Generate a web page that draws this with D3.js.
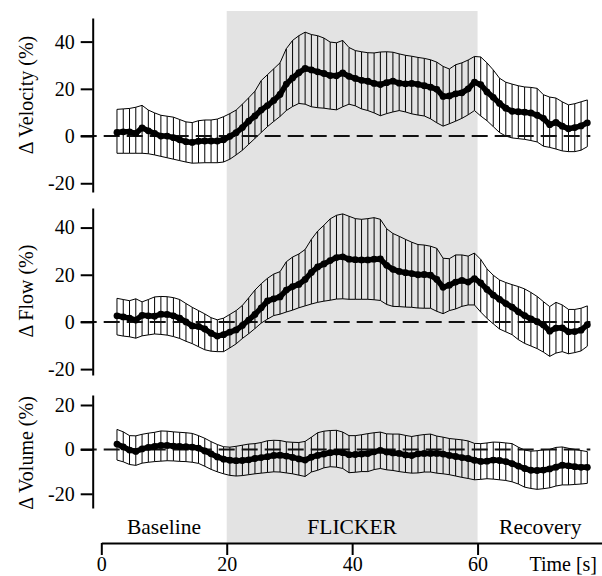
<!DOCTYPE html>
<html>
<head>
<meta charset="utf-8">
<script src="https://cdn.jsdelivr.net/npm/d3@7"></script>
<style>
  body { margin: 0; background: #fff; }
  svg { display: block; font-family: 'Liberation Serif', 'Times New Roman', serif; }
</style>
</head>
<body>
<svg id="chart" width="602" height="576"></svg>
<script>
// sample times (s)
const time = [
  2.5, 3.5, 4.5, 5.5, 6.5, 7.5, 8.5, 9.5, 10.5, 11.5,
  12.5, 13.5, 14.5, 15.5, 16.5, 17.5, 18.5, 19.5, 20.5, 21.5,
  22.5, 23.5, 24.5, 25.5, 26.5, 27.5, 28.5, 29.5, 30.5, 31.5,
  32.5, 33.5, 34.5, 35.5, 36.5, 37.5, 38.5, 39.5, 40.5, 41.5,
  42.5, 43.5, 44.5, 45.5, 46.5, 47.5, 48.5, 49.5, 50.5, 51.5,
  52.5, 53.5, 54.5, 55.5, 56.5, 57.5, 58.5, 59.5, 60.5, 61.5,
  62.5, 63.5, 64.5, 65.5, 66.5, 67.5, 68.5, 69.5, 70.5, 71.5,
  72.5, 73.5, 74.5, 75.5, 76.5, 77.5,
];

const velMean = [
  1.5, 1.8, 1.8, 1.1, 3.5, 2.2, 1.1, 0, 0, -0.7,
  -1.6, -2.4, -2.7, -2.2, -2.1, -2.1, -2.1, -1.6, -0.1, 1.4,
  3.6, 6.3, 8.5, 11, 12.9, 15.1, 17.6, 22, 24.6, 26.8,
  28.6, 28, 27.2, 26.5, 25.6, 25.5, 26.7, 25.3, 24.4, 23.6,
  23.2, 22.3, 21.8, 22.6, 23.3, 22.4, 22.1, 22.3, 21.9, 21.3,
  20.7, 19.8, 16.8, 17, 17.9, 18.3, 20, 22.8, 21.8, 18.7,
  16.4, 13.8, 11.8, 10.5, 10.3, 10.1, 9.8, 8.8, 7.5, 4.8,
  5.8, 4.2, 3.1, 3.6, 4.3, 5.6,
];
const velUpper = [
  11.3, 11.5, 11.7, 12.2, 13, 11, 9.8, 8.8, 8.4, 8,
  7, 6, 5.7, 6.5, 6.8, 6.8, 7.2, 8.2, 9.5, 11,
  13.5, 16.2, 19, 23.5, 26, 28.5, 31, 37, 40.5, 42.5,
  44, 43, 42.5, 41.5, 39.8, 39.5, 40.5, 37.5, 36.2, 35.7,
  35.3, 35.2, 35.6, 35.7, 35.5, 34.8, 34.2, 33.8, 33.3, 32.9,
  32.3, 31.3, 29.5, 28.4, 30.2, 31, 32.2, 33.7, 33.5, 31,
  28, 24.5, 22.8, 22, 21.3, 20.8, 20.6, 20.2, 17.5, 16.5,
  16.1, 14.5, 13.2, 13.7, 14.5, 15.3,
];
const velLower = [
  -7.3, -7.3, -7.3, -7.3, -7.3, -7.5, -8, -8.6, -9.2, -9.8,
  -10.4, -11, -11.5, -11.4, -11.3, -11.3, -11.3, -11, -9.8, -8,
  -6, -3.5, -1, 1.5, 4, 6.2, 8.3, 10.8, 12.5, 13.8,
  13.5, 12.4, 12, 11.8, 11.4, 11.1, 12.4, 13.5, 12.8, 11.5,
  10.8, 9.8, 8.6, 9.5, 10.2, 10.8, 10.2, 9.4, 8.9, 8.5,
  7.3, 5.6, 4.2, 5.2, 6.3, 7.5, 9, 10.8, 8.5, 6.5,
  4, 1.5, 0, -0.8, -1.1, -1.4, -1.9, -2.5, -4.3, -4.8,
  -5.5, -6.3, -6.6, -6.6, -6, -4.5,
];

const flowMean = [
  2.6, 2.1, 1.6, 0.8, 2.8, 2.6, 2.4, 3.3, 3.2, 2.6,
  1.6, 0, -1.7, -1.9, -3, -4.8, -6, -5.4, -4.3, -3.4,
  -1.5, 0.8, 3.2, 6, 8.9, 9.8, 10.6, 13.5, 15, 15.9,
  18, 21, 23.3, 24.6, 26, 27.3, 27.6, 26.6, 26.4, 26.3,
  26.3, 26.6, 26.7, 24, 22.3, 21.4, 20.9, 20.5, 20, 20.1,
  19.8, 18, 14.7, 15.6, 16.9, 17.6, 16.9, 18.4, 16.5, 13.8,
  11.4, 9.6, 7.8, 6.3, 4.3, 2.7, 1.3, 0.1, -1.3, -3.9,
  -2.6, -2.5, -4.2, -4.1, -3.5, -1.2,
];
const flowUpper = [
  10, 9.5, 9, 9.8, 8.5, 9.5, 10.6, 10.8, 10.7, 10.3,
  9.5, 7.8, 6.2, 4.8, 3.4, 1.8, 0.9, 1.6, 3.2, 4.8,
  7, 10.2, 13.5, 16.2, 18.5, 20.3, 21.3, 25.5, 27.5, 28.8,
  30.7, 35, 38.5, 41, 43.7, 45.2, 45.8, 44.8, 43.8, 43.5,
  43.8, 44.2, 43.5, 39.5, 37.5, 36.3, 35, 33.8, 32.8, 32.6,
  32.1, 31.2, 27, 26.8, 28.4, 28.4, 27.9, 29.2, 26.5, 22.5,
  19.8, 17.8, 16.7, 15.8, 15, 14, 12.5, 10.8, 8.6, 6.5,
  8.3, 7.2, 5.3, 5.3, 5.8, 6.8,
];
const flowLower = [
  -5.5, -6, -6.3, -6.9, -5.9, -5.5, -5.1, -5.3, -5.6, -6.2,
  -7, -8.2, -9.2, -10.5, -11.8, -12.4, -12.6, -12.6, -11, -9.3,
  -7, -5, -2.8, -0.5, 1.2, 2.7, 3.3, 4.2, 5, 6,
  6.8, 7.6, 8.3, 8.8, 9.2, 9.7, 9.8, 9.6, 9.6, 9.6,
  9.6, 9.4, 9.1, 7.4, 6.6, 6.5, 6.3, 6.2, 5.9, 5.8,
  5.8, 4.5, 3.5, 4.8, 5.5, 6.6, 7.2, 7.2, 4.2, 1.5,
  -0.8, -3, -4.2, -5.4, -7.5, -9.1, -10.2, -11.3, -12.8, -14.6,
  -13.2, -12.6, -13.5, -13, -12.3, -10.3,
];

const volMean = [
  2.4, 1.1, -0.3, -0.9, 0.2, 0.9, 1.3, 1.8, 1.8, 1.5,
  1.3, 1.2, 1, 0.6, -0.7, -2, -3.4, -4.4, -4.9, -5.1,
  -5, -4.7, -4.1, -3.7, -3.3, -2.7, -2.6, -3, -3.6, -4.3,
  -4.8, -3.5, -2.7, -2.1, -1.5, -1.2, -1.5, -2.4, -2.3, -2.1,
  -1.9, -1.1, -0.4, -1.2, -1.6, -1.8, -2.5, -2.8, -2, -1.8,
  -1.8, -1.8, -2.1, -2.7, -3.2, -3.7, -4.1, -4.9, -5.4, -5.3,
  -4.8, -5, -5.5, -6.4, -7.5, -8.6, -9.4, -9.5, -9.3, -8.8,
  -8, -7.1, -7.4, -7.8, -8.1, -8.1,
];
const volUpper = [
  9, 7.9, 6.2, 6.1, 6.8, 7.3, 7.7, 8.3, 8.2, 7.9,
  7.7, 7.5, 7.2, 6.2, 5, 3.5, 2.2, 1.2, 1, 1.4,
  1.9, 2.4, 2.6, 3.1, 3.9, 4.1, 4, 3.4, 3.2, 3.1,
  3.6, 5.5, 7.5, 8.2, 8.5, 8.6, 7.8, 6.2, 6.2, 6.6,
  7.1, 7.5, 7.8, 7, 6.9, 6.9, 6.3, 5.8, 6.3, 6.7,
  6.9, 6, 5.5, 4.9, 4.6, 4.3, 3.8, 2.7, 2.6, 2.9,
  3.3, 3.2, 2.9, 2.6, 1, -0.3, -0.8, -0.6, -0.2, 0,
  0.9, 1.1, 0.5, 0, -0.5, -1,
];
const volLower = [
  -4.8, -5.6, -6.8, -7.2, -6.2, -5.8, -5.5, -5.3, -5.1, -5.2,
  -5.4, -5.5, -5.8, -6.3, -7.6, -9, -10.1, -11, -11.7, -12,
  -11.8, -11.4, -11, -10.7, -10.4, -10.1, -10.2, -10.6, -11, -11.6,
  -12.2, -10.2, -9.4, -8.3, -7.8, -8, -8.6, -10.5, -10.3, -10,
  -10, -9.1, -8.6, -9.2, -9.5, -10, -10.4, -10.7, -10.6, -10.2,
  -10.2, -10.7, -11, -11.4, -12, -12.6, -13.1, -13.7, -13.5, -13.2,
  -13.4, -13.7, -14, -14.6, -15.6, -17, -17.6, -18, -17.7, -17.3,
  -16.5, -16, -16, -15.8, -15.6, -15.3,
];

// phases
const phaseNames = ['Baseline', 'FLICKER', 'Recovery'];
const phaseBounds = [0, 20, 60, 80];
const xTicks = [0, 20, 40, 60, 80];

const panels = [
  { title: '\u0394 Velocity (%)', mean: velMean, upper: velUpper, lower: velLower,
    ticks: [-20, 0, 20, 40], domain: [-23.7, 50], range: [192, 18], titleY: 95 },
  { title: '\u0394 Flow (%)', mean: flowMean, upper: flowUpper, lower: flowLower,
    ticks: [-20, 0, 20, 40], domain: [-22.5, 48.3], range: [375, 208], titleY: 291 },
  { title: '\u0394 Volume (%)', mean: volMean, upper: volUpper, lower: volLower,
    ticks: [-20, 0, 20], domain: [-26.4, 24.5], range: [508, 395], titleY: 453 },
];

const fontSize = 20;
const yAxisX = 92.7;
const xAxisY = 543;

const svg = d3.select('#chart');

const xScale = d3.scaleLinear().domain([0, 80]).range([101.3, 603]);

// flicker shading
svg.append('rect')
  .attr('x', xScale(phaseBounds[1]))
  .attr('y', 11)
  .attr('width', xScale(phaseBounds[2]) - xScale(phaseBounds[1]))
  .attr('height', xAxisY - 11)
  .attr('fill', '#e3e3e3');

function drawPanel(p) {
  const yScale = d3.scaleLinear().domain(p.domain).range(p.range);
  const g = svg.append('g');

  const pts = time.map((t, i) => ({ t, m: p.mean[i], hi: p.upper[i], lo: p.lower[i] }));

  // error bars
  g.selectAll('.bar')
    .data(pts)
    .enter()
    .append('line')
    .attr('x1', d => xScale(d.t))
    .attr('x2', d => xScale(d.t))
    .attr('y1', d => yScale(d.lo))
    .attr('y2', d => yScale(d.hi))
    .attr('stroke', '#000')
    .attr('stroke-width', 1);

  const upperLine = d3.line().x(d => xScale(d.t)).y(d => yScale(d.hi));
  const lowerLine = d3.line().x(d => xScale(d.t)).y(d => yScale(d.lo));
  [upperLine, lowerLine].forEach(gen => {
    g.append('path')
      .attr('d', gen(pts))
      .attr('fill', 'none')
      .attr('stroke', '#000')
      .attr('stroke-width', 1);
  });

  // zero reference
  g.append('line')
    .attr('x1', yAxisX - 12)
    .attr('x2', xScale(time[time.length - 1]) + 3)
    .attr('y1', yScale(0))
    .attr('y2', yScale(0))
    .attr('stroke', '#111')
    .attr('stroke-width', 2)
    .attr('stroke-dasharray', '16,7');

  // mean trace
  const meanLine = d3.line().x(d => xScale(d.t)).y(d => yScale(d.m));
  g.append('path')
    .attr('d', meanLine(pts))
    .attr('fill', 'none')
    .attr('stroke', '#000')
    .attr('stroke-width', 5.5)
    .attr('stroke-linejoin', 'round');
  g.selectAll('.dot')
    .data(pts)
    .enter()
    .append('circle')
    .attr('cx', d => xScale(d.t))
    .attr('cy', d => yScale(d.m))
    .attr('r', 3.4)
    .attr('fill', '#000');

  // y axis
  const yAxis = d3.axisLeft(yScale)
    .tickValues(p.ticks)
    .tickFormat(d3.format('d'))
    .tickSize(12)
    .tickSizeOuter(0)
    .tickPadding(6);
  const ag = g.append('g')
    .attr('transform', `translate(${yAxisX},0)`)
    .call(yAxis);
  ag.attr('font-family', null);
  ag.select('.domain').attr('stroke-width', 2);
  ag.selectAll('.tick line').attr('stroke-width', 2);
  ag.selectAll('text')
    .attr('font-size', fontSize)
    .text(d => (d < 0 ? '-' + Math.abs(d) : d));

  g.append('text')
    .attr('transform', `translate(33,${p.titleY}) rotate(-90)`)
    .attr('text-anchor', 'middle')
    .attr('font-size', fontSize)
    .text(p.title);
}

panels.forEach(drawPanel);

// phase labels
svg.selectAll('.phase')
  .data(phaseNames)
  .enter()
  .append('text')
  .attr('x', (d, i) => xScale((phaseBounds[i] + phaseBounds[i + 1]) / 2))
  .attr('y', 534)
  .attr('text-anchor', 'middle')
  .attr('font-size', 21.5)
  .text(d => d);

// time axis
const xAxis = d3.axisBottom(xScale)
  .tickValues(xTicks)
  .tickFormat(d => (d === 80 ? '' : d))
  .tickSize(12)
  .tickSizeOuter(0)
  .tickPadding(2);
const xg = svg.append('g')
  .attr('transform', `translate(0,${xAxisY})`)
  .call(xAxis);
xg.attr('font-family', null);
xg.select('.domain').attr('stroke-width', 2);
xg.selectAll('.tick line').attr('stroke-width', 2);
xg.selectAll('text').attr('font-size', fontSize);

svg.append('text')
  .attr('x', 597)
  .attr('y', 571)
  .attr('text-anchor', 'end')
  .attr('font-size', fontSize)
  .text('Time [s]');
</script>
</body>
</html>
